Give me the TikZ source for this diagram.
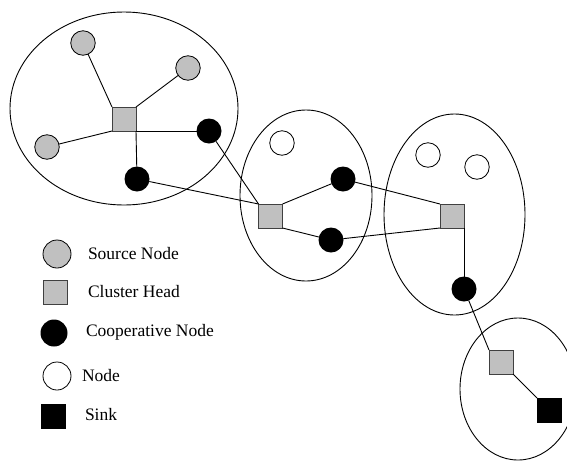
\documentclass[tikz,border=0pt]{standalone}
\usepackage{fontspec}
\setmainfont{Liberation Serif}
\definecolor{silver}{HTML}{C0C0C0}
\begin{document}
\begin{tikzpicture}[x=1pt,y=-1pt,
  every node/.style={inner sep=0pt, outer sep=0pt},
  link/.style={line width=0.9pt},
  cluster/.style={line width=0.9pt},
  srcnode/.style={circle, draw, line width=0.8pt, fill=silver, minimum size=24.5pt},
  headnode/.style={rectangle, draw=black!75, line width=0.8pt, fill=silver, minimum size=24pt},
  coopnode/.style={circle, fill=black, minimum size=25pt},
  idlenode/.style={circle, draw, line width=0.8pt, fill=white, minimum size=24.5pt},
  sinknode/.style={rectangle, fill=black, minimum size=25pt},
  legendtext/.style={anchor=west, font=\fontsize{17.5}{20}\selectfont}]
\useasboundingbox (0,0) rectangle (567,461);
\clip (0,0) rectangle (567,461);

% cluster boundaries
\draw[cluster] (124,108.5) ellipse [x radius=114, y radius=96.5];
\draw[cluster] (306,195.5) ellipse [x radius=66, y radius=85.5];
\draw[cluster] (454.5,214.5) ellipse [x radius=70.5, y radius=100.5];
\draw[cluster] (518,389) ellipse [x radius=58, y radius=71];

% first cluster
\node[headnode] (h1) at (124,119) {};
\node[srcnode] (s1) at (83,43) {};
\node[srcnode] (s2) at (188,68) {};
\node[srcnode] (s3) at (47,147) {};
\node[coopnode] (c1) at (209,131) {};
\node[coopnode] (c2) at (137,179) {};

% second cluster
\node[headnode] (h2) at (270.5,216) {};
\node[idlenode] (n1) at (282,143) {};
\node[coopnode] (c3) at (343,179) {};
\node[coopnode] (c4) at (331,240) {};

% third cluster
\node[headnode] (h3) at (452,216) {};
\node[idlenode] (n2) at (428,155) {};
\node[idlenode] (n3) at (477,167) {};
\node[coopnode] (c5) at (464,289) {};

% fourth cluster with the sink
\node[headnode] (h4) at (501,362) {};
\node[sinknode] (sk) at (549.5,410.5) {};

% links between nodes
\draw[link] (s1) -- (h1.north west);
\draw[link] (s2) -- (h1.north east);
\draw[link] (s3) -- (h1.south west);
\draw[link] (h1.south east) -- (c1);
\draw[link] (h1.south east) -- (c2);
\draw[link] (c1) -- (h2.north west);
\draw[link] (c2) -- (h2.north west);
\draw[link] (h2.north east) -- (c3);
\draw[link] (h2.south east) -- (c4);
\draw[link] (c3) -- (h3.north west);
\draw[link] (c4) -- (h3.south west);
\draw[link] (h3.south east) -- (c5.north);
\draw[link] (c5) -- (h4.north west);
\draw[link] (h4.south east) -- (sk.north west);

% legend
\node[srcnode, minimum size=28pt] (l1) at (57,254) {};
\node[legendtext] (t1) at (88,254) {Source Node};
\node[headnode] (l2) at (55,292) {};
\node[legendtext] (t2) at (88,292) {Cluster Head};
\node[coopnode, minimum size=27pt] (l3) at (54,333) {};
\node[legendtext] (t3) at (86,332) {Cooperative Node};
\node[idlenode, minimum size=28pt] (l4) at (57,376) {};
\node[legendtext] (t4) at (82,376) {Node};
\node[sinknode] (l5) at (53.5,416) {};
\node[legendtext] (t5) at (85,415) {Sink};
\end{tikzpicture}
\end{document}
